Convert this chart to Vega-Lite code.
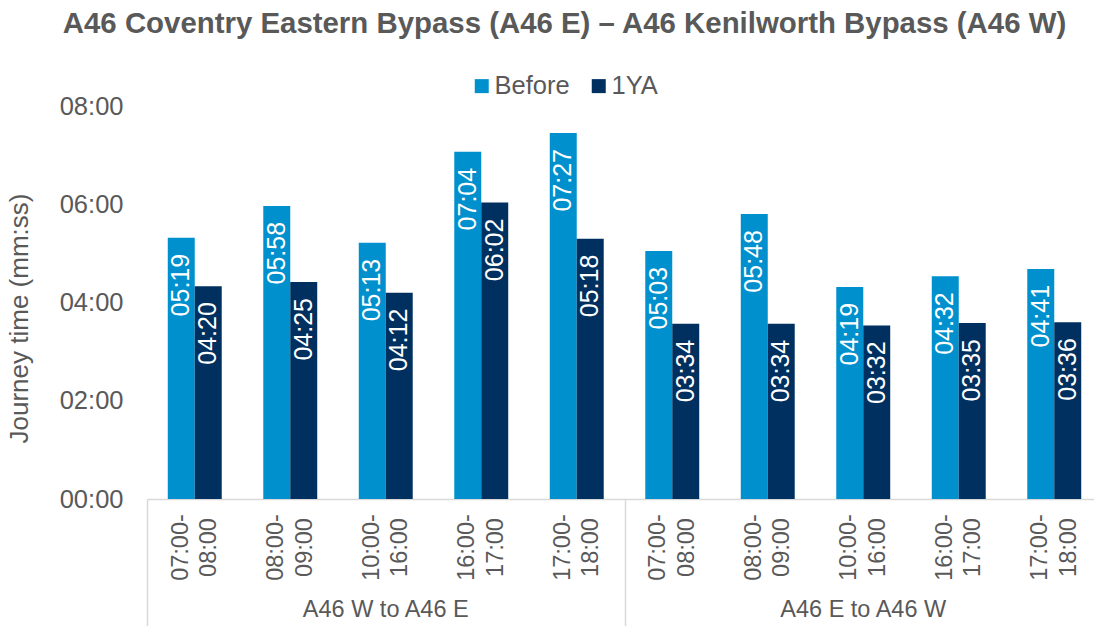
{
  "$schema": "https://vega.github.io/schema/vega-lite/v6.json",
  "autosize": {"type": "none"},
  "padding": {"left": 147, "top": 106, "right": 0, "bottom": 127},
  "width": 955,
  "height": 393,
  "background": "white",
  "config": {
    "font": "Liberation Sans",
    "view": {"stroke": null}
  },
  "title": {
    "text": "A46 Coventry Eastern Bypass (A46 E) – A46 Kenilworth Bypass (A46 W)",
    "fontSize": 29.4,
    "fontWeight": "bold",
    "color": "#595959",
    "anchor": "middle",
    "dx": -60,
    "dy": -30
  },
  "data": {
    "values": [
      {"cat": "W 07:00-08:00", "series": "Before", "minutes": 5.3167, "label": "05:19"},
      {"cat": "W 07:00-08:00", "series": "1YA", "minutes": 4.3333, "label": "04:20"},
      {"cat": "W 08:00-09:00", "series": "Before", "minutes": 5.9667, "label": "05:58"},
      {"cat": "W 08:00-09:00", "series": "1YA", "minutes": 4.4167, "label": "04:25"},
      {"cat": "W 10:00-16:00", "series": "Before", "minutes": 5.2167, "label": "05:13"},
      {"cat": "W 10:00-16:00", "series": "1YA", "minutes": 4.2, "label": "04:12"},
      {"cat": "W 16:00-17:00", "series": "Before", "minutes": 7.0667, "label": "07:04"},
      {"cat": "W 16:00-17:00", "series": "1YA", "minutes": 6.0333, "label": "06:02"},
      {"cat": "W 17:00-18:00", "series": "Before", "minutes": 7.45, "label": "07:27"},
      {"cat": "W 17:00-18:00", "series": "1YA", "minutes": 5.3, "label": "05:18"},
      {"cat": "E 07:00-08:00", "series": "Before", "minutes": 5.05, "label": "05:03"},
      {"cat": "E 07:00-08:00", "series": "1YA", "minutes": 3.5667, "label": "03:34"},
      {"cat": "E 08:00-09:00", "series": "Before", "minutes": 5.8, "label": "05:48"},
      {"cat": "E 08:00-09:00", "series": "1YA", "minutes": 3.5667, "label": "03:34"},
      {"cat": "E 10:00-16:00", "series": "Before", "minutes": 4.3167, "label": "04:19"},
      {"cat": "E 10:00-16:00", "series": "1YA", "minutes": 3.5333, "label": "03:32"},
      {"cat": "E 16:00-17:00", "series": "Before", "minutes": 4.5333, "label": "04:32"},
      {"cat": "E 16:00-17:00", "series": "1YA", "minutes": 3.5833, "label": "03:35"},
      {"cat": "E 17:00-18:00", "series": "Before", "minutes": 4.6833, "label": "04:41"},
      {"cat": "E 17:00-18:00", "series": "1YA", "minutes": 3.6, "label": "03:36"}
    ]
  },
  "encoding": {
    "y": {
      "field": "minutes",
      "type": "quantitative",
      "scale": {"domain": [0, 8], "nice": false},
      "axis": {
        "title": "Journey time (mm:ss)",
        "titleFontSize": 26,
        "titleFontWeight": "normal",
        "titleColor": "#595959",
        "titlePadding": 27,
        "titleY": 212,
        "values": [0, 2, 4, 6, 8],
        "labelExpr": "'0' + datum.value + ':00'",
        "labelFontSize": 25.5,
        "labelColor": "#595959",
        "labelPadding": 24,
        "ticks": false,
        "domain": false,
        "grid": false
      }
    }
  },
  "resolve": {"axis": {"x": "independent"}},
  "layer": [
    {
      "mark": {"type": "bar"},
      "encoding": {
        "x": {
          "field": "cat",
          "type": "nominal",
          "sort": null,
          "scale": {
            "domain": ["W 07:00-08:00", "W 08:00-09:00", "W 10:00-16:00", "W 16:00-17:00", "W 17:00-18:00", "E 07:00-08:00", "E 08:00-09:00", "E 10:00-16:00", "E 16:00-17:00", "E 17:00-18:00"],
            "paddingInner": 0.435,
            "paddingOuter": 0.2175
          },
          "axis": {
            "orient": "bottom",
            "title": null,
            "labelExpr": "[slice(datum.value, 2, 8), slice(datum.value, 8)]",
            "labelAngle": -90,
            "labelAlign": "center",
            "labelBaseline": "middle",
            "labelPadding": 48,
            "labelOffset": -14.25,
            "labelFontSize": 23.5,
            "labelLineHeight": 28.5,
            "labelColor": "#595959",
            "ticks": false,
            "domain": true,
            "domainColor": "#d9d9d9",
            "domainWidth": 1.5,
            "grid": false
          }
        },
        "xOffset": {
          "field": "series",
          "type": "nominal",
          "scale": {"domain": ["Before", "1YA"], "paddingInner": 0, "paddingOuter": 0}
        },
        "color": {
          "field": "series",
          "type": "nominal",
          "scale": {"domain": ["Before", "1YA"], "range": ["#0090CD", "#00305F"]},
          "legend": {
            "title": null,
            "orient": "none",
            "direction": "horizontal",
            "legendX": 322,
            "legendY": -33,
            "symbolType": "square",
            "symbolSize": 196,
            "symbolStrokeWidth": 0,
            "symbolOpacity": 1,
            "labelFontSize": 25.5,
            "labelColor": "#595959",
            "labelOffset": 0,
            "columnPadding": 16
          }
        }
      }
    },
    {
      "transform": [{"filter": "datum.series === 'Before'"}],
      "mark": {"type": "text", "angle": 270, "align": "right", "baseline": "middle", "dx": -16, "fontSize": 25, "color": "white"},
      "encoding": {
        "x": {
          "field": "cat",
          "type": "nominal",
          "sort": null,
          "scale": {
            "domain": ["W 07:00-08:00", "W 08:00-09:00", "W 10:00-16:00", "W 16:00-17:00", "W 17:00-18:00", "E 07:00-08:00", "E 08:00-09:00", "E 10:00-16:00", "E 16:00-17:00", "E 17:00-18:00"],
            "paddingInner": 0.435,
            "paddingOuter": 0.2175
          },
          "axis": {
            "orient": "bottom",
            "title": null,
            "values": ["W 10:00-16:00", "E 10:00-16:00"],
            "labelExpr": "slice(datum.value, 0, 1) === 'W' ? 'A46 W to A46 E' : 'A46 E to A46 W'",
            "labelAngle": 0,
            "labelAlign": "center",
            "labelBaseline": "middle",
            "labelPadding": 110,
            "labelFontSize": 23.5,
            "labelColor": "#595959",
            "ticks": false,
            "domain": false,
            "grid": false
          }
        },
        "xOffset": {
          "field": "series",
          "type": "nominal",
          "scale": {"domain": ["Before", "1YA"], "paddingInner": 0, "paddingOuter": 0}
        },
        "text": {"field": "label", "type": "nominal"}
      }
    },
    {
      "transform": [{"filter": "datum.series === '1YA'"}],
      "mark": {"type": "text", "angle": 270, "align": "right", "baseline": "middle", "dx": -16, "fontSize": 25, "color": "white"},
      "encoding": {
        "x": {
          "field": "cat",
          "type": "nominal",
          "sort": null,
          "scale": {
            "domain": ["W 07:00-08:00", "W 08:00-09:00", "W 10:00-16:00", "W 16:00-17:00", "W 17:00-18:00", "E 07:00-08:00", "E 08:00-09:00", "E 10:00-16:00", "E 16:00-17:00", "E 17:00-18:00"],
            "paddingInner": 0.435,
            "paddingOuter": 0.2175
          },
          "axis": {
            "orient": "bottom",
            "title": null,
            "values": ["W 07:00-08:00", "E 07:00-08:00"],
            "labels": false,
            "ticks": true,
            "tickBand": "center",
            "tickOffset": -47.75,
            "tickSize": 130,
            "tickColor": "#d9d9d9",
            "tickWidth": 1.5,
            "domain": false,
            "grid": false
          }
        },
        "xOffset": {
          "field": "series",
          "type": "nominal",
          "scale": {"domain": ["Before", "1YA"], "paddingInner": 0, "paddingOuter": 0}
        },
        "text": {"field": "label", "type": "nominal"}
      }
    }
  ]
}
